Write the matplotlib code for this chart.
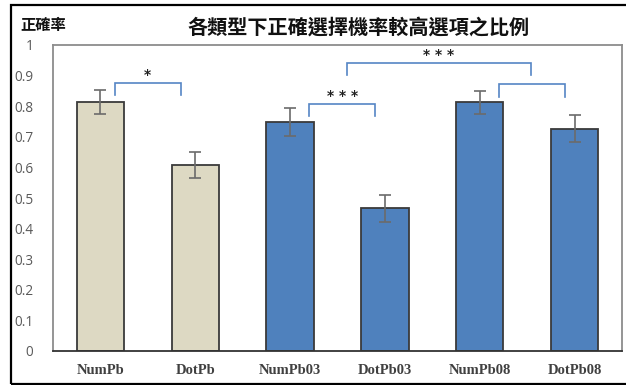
import matplotlib.pyplot as plt
from matplotlib.patches import Rectangle

plt.rcParams['font.family'] = ['Noto Sans CJK TC', 'DejaVu Sans']

# data
categories = ['NumPb', 'DotPb', 'NumPb03', 'DotPb03', 'NumPb08', 'DotPb08']
accuracy = [0.813, 0.607, 0.749, 0.466, 0.813, 0.727]
errors = [0.040, 0.042, 0.045, 0.045, 0.038, 0.045]
bar_colors = ['#DDD9C3', '#DDD9C3', '#4F81BD', '#4F81BD', '#4F81BD', '#4F81BD']

# significance brackets: (left x, right x, top y, leg end y, label)
brackets = [
    (0.15, 0.85, 0.875, 0.836, '*'),
    (2.20, 2.90, 0.807, 0.768, '* * *'),
    (2.60, 4.54, 0.941, 0.902, '* * *'),
    (4.20, 4.90, 0.872, 0.830, ''),
]

yticks = [0, 0.1, 0.2, 0.3, 0.4, 0.5, 0.6, 0.7, 0.8, 0.9, 1]
ytick_labels = ['0', '0.1', '0.2', '0.3', '0.4', '0.5', '0.6', '0.7', '0.8', '0.9', '1']

fig = plt.figure(figsize=(6.26, 3.85), dpi=100)
ax = fig.add_axes([53 / 626, 34 / 385, 569 / 626, 306 / 385])

x = list(range(len(categories)))
ax.bar(x, accuracy, width=0.5, color=bar_colors, edgecolor='#3a3a3a', linewidth=1.3,
       yerr=errors, capsize=4,
       error_kw=dict(ecolor='#6b6b6b', elinewidth=1.2, capthick=1.2), zorder=2)

# brackets with stars
for x0, x1, ytop, yend, label in brackets:
    ax.plot([x0, x0, x1, x1], [yend, ytop, ytop, yend], color='#5585C5',
            linewidth=1.2, solid_joinstyle='miter', zorder=3)
    if label:
        ax.text((x0 + x1) / 2, ytop + 0.005, label, ha='center', va='bottom',
                fontsize=10, fontweight='bold', color='#222222',
                family='DejaVu Sans', linespacing=1.0)

ax.set_xlim(-0.5, 5.5)
ax.set_ylim(0, 1)
ax.set_xticks(x)
ax.set_xticklabels(categories, family='Liberation Serif', fontweight='bold',
                   fontsize=10.5, color='#404040')
ax.set_yticks(yticks)
ax.set_yticklabels(ytick_labels, family='Open Sans', fontsize=9.8, color='#595959')
ax.tick_params(axis='both', length=0)
ax.tick_params(axis='x', pad=9)
ax.tick_params(axis='y', pad=14)
for s in ax.spines.values():
    s.set_color('#8c8c8c')
    s.set_linewidth(1.3)
ax.spines['bottom'].set_color('#333333')

fig.text(359 / 626, 1 - 27 / 385, '各類型下正確選擇機率較高選項之比例', ha='center', va='center',
         fontsize=14.5, fontweight='bold', color='#111111')
fig.text(20 / 626, 1 - 25 / 385, '正確率', ha='left', va='center',
         fontsize=11, fontweight='bold', color='#111111')

# outer frame
fig.patches.append(Rectangle((11 / 626, 1 / 385), 1.0, 379 / 385, transform=fig.transFigure,
                             fill=False, edgecolor='black', linewidth=1.6))

fig.savefig('out.png', dpi=100)
